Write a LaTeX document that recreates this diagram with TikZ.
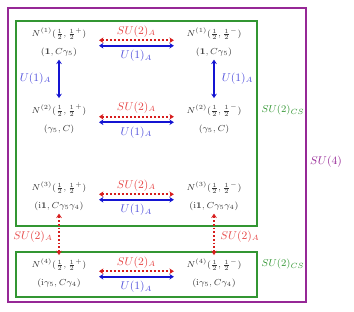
\documentclass[tikz,border=0pt]{standalone}
\usetikzlibrary{arrows.meta}
\definecolor{cred}{RGB}{215,30,30}
\definecolor{lred}{RGB}{230,70,70}
\definecolor{cblue}{RGB}{20,20,210}
\definecolor{lblue}{RGB}{80,80,220}
\definecolor{cgreen}{RGB}{50,150,50}
\definecolor{cpurple}{RGB}{150,40,150}
\begin{document}
\begin{tikzpicture}[x=0.8pt,y=-0.8pt,
  state/.style={align=center,font=\scriptsize,text=black!80,inner sep=1pt},
  redarr/.style={cred,dash pattern=on 2pt off 1.2pt,line width=1.3pt,{Stealth[length=3.5pt,width=4.5pt]}-{Stealth[length=3.5pt,width=4.5pt]}},
  bluearr/.style={cblue,line width=1.4pt,{Stealth[length=3.5pt,width=4.5pt]}-{Stealth[length=3.5pt,width=4.5pt]}},
  redlab/.style={lred,font=\small,inner sep=1.5pt},
  bluelab/.style={lblue,font=\small,inner sep=1.5pt},
  greenbox/.style={cgreen,line width=1pt},
  purplebox/.style={cpurple,line width=1pt}]
\useasboundingbox (0,0) rectangle (354,311);
% frames
\draw[purplebox] (8,8) rectangle (306,302);
\draw[greenbox] (16,21) rectangle (257,226);
\draw[greenbox] (16,252) rectangle (257,297);
\node[cgreen,font=\footnotesize] (cs1) at (283,110) {$SU(2)_{CS}$};
\node[cgreen,font=\footnotesize] (cs2) at (283,264) {$SU(2)_{CS}$};
\node[cpurple,font=\small] (su4) at (326,162) {$SU(4)$};
% states
\node[state] (a1) at (59,42.5) {$N^{(1)}(\frac12,\frac12^+)$\\[6.5pt]$(\mathbf{1},C\gamma_5)$};
\node[state] (b1) at (214,42.5) {$N^{(1)}(\frac12,\frac12^-)$\\[6.5pt]$(\mathbf{1},C\gamma_5)$};
\node[state] (a2) at (59,119) {$N^{(2)}(\frac12,\frac12^+)$\\[6.5pt]$(\gamma_5,C)$};
\node[state] (b2) at (214,119) {$N^{(2)}(\frac12,\frac12^-)$\\[6.5pt]$(\gamma_5,C)$};
\node[state] (a3) at (59,196.5) {$N^{(3)}(\frac12,\frac12^+)$\\[6.5pt]$(\mathrm{i}\mathbf{1},C\gamma_5\gamma_4)$};
\node[state] (b3) at (214,196.5) {$N^{(3)}(\frac12,\frac12^-)$\\[6.5pt]$(\mathrm{i}\mathbf{1},C\gamma_5\gamma_4)$};
\node[state] (a4) at (59,273.5) {$N^{(4)}(\frac12,\frac12^+)$\\[6.5pt]$(\mathrm{i}\gamma_5,C\gamma_4)$};
\node[state] (b4) at (214,273.5) {$N^{(4)}(\frac12,\frac12^-)$\\[6.5pt]$(\mathrm{i}\gamma_5,C\gamma_4)$};
% horizontal arrows
\foreach \r in {1,2,3,4}{
  \draw[redarr] ([xshift=9pt,yshift=1.8pt]a\r.east) -- ([xshift=-9pt,yshift=1.8pt]b\r.west)
     node[midway,above=0.5pt,redlab] {$SU(2)_A$};
  \draw[bluearr] ([xshift=9pt,yshift=-2.6pt]a\r.east) -- ([xshift=-9pt,yshift=-2.6pt]b\r.west)
     node[midway,below=1.5pt,bluelab] {$U(1)_A$};
}
% vertical arrows
\draw[bluearr] ([yshift=-1pt]a1.south) -- ([yshift=4pt]a2.north) node[midway,left=4pt,bluelab] {$U(1)_A$};
\draw[bluearr] ([yshift=-1pt]b1.south) -- ([yshift=4pt]b2.north) node[midway,right=4pt,bluelab] {$U(1)_A$};
\draw[redarr,dash pattern=on 1.5pt off 1.5pt] ([yshift=-1pt]a3.south) -- ([yshift=2pt]a4.north) node[midway,left=3pt,yshift=-2pt,redlab] {$SU(2)_A$};
\draw[redarr,dash pattern=on 1.5pt off 1.5pt] ([yshift=-1pt]b3.south) -- ([yshift=2pt]b4.north) node[midway,right=3pt,yshift=-2pt,redlab] {$SU(2)_A$};
\end{tikzpicture}
\end{document}
